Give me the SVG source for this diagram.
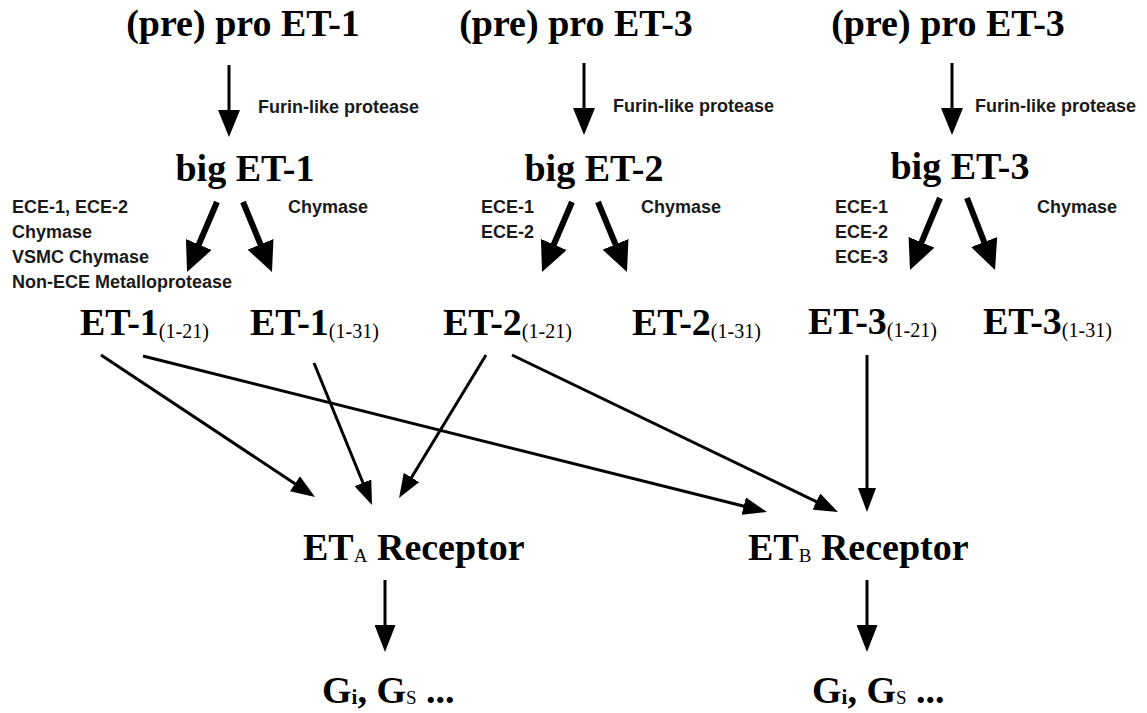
<svg xmlns="http://www.w3.org/2000/svg" width="1147" height="713" viewBox="0 0 1147 713">
<style>
.h{font-family:"Liberation Serif","Times New Roman",serif;font-weight:bold;font-size:38px;fill:#000}
.sub{font-family:"Liberation Serif","Times New Roman",serif;font-weight:normal;font-size:20px}
.rs{font-family:"Liberation Serif","Times New Roman",serif;font-weight:normal;font-size:19px}
.gs{font-family:"Liberation Serif","Times New Roman",serif;font-weight:bold;font-size:21px}
.lab{font-family:"Liberation Sans",Arial,sans-serif;font-weight:bold;font-size:18px;fill:#1a1a1a}
.a1{stroke:#000;stroke-width:3;fill:none;marker-end:url(#mA)}
.a2{stroke:#000;stroke-width:6;fill:none;marker-end:url(#mB)}
.a3{stroke:#000;stroke-width:3;fill:none;marker-end:url(#mC)}
.a4{stroke:#000;stroke-width:3;fill:none;marker-end:url(#mD)}
</style>
<defs>
<marker id="mA" markerUnits="userSpaceOnUse" markerWidth="27" markerHeight="22" refX="10.8" refY="11" orient="auto"><path d="M0,0 L27,11 L0,22 Z" fill="#000"/></marker>
<marker id="mB" markerUnits="userSpaceOnUse" markerWidth="30" markerHeight="28" refX="12" refY="14" orient="auto"><path d="M0,0 L30,14 L0,28 Z" fill="#000"/></marker>
<marker id="mC" markerUnits="userSpaceOnUse" markerWidth="24" markerHeight="18" refX="10.8" refY="9" orient="auto"><path d="M0,0 L24,9 L0,18 Z" fill="#000"/></marker>
<marker id="mD" markerUnits="userSpaceOnUse" markerWidth="27" markerHeight="21" refX="10.8" refY="10.5" orient="auto"><path d="M0,0 L27,10.5 L0,21 Z" fill="#000"/></marker>
</defs>
<rect width="1147" height="713" fill="#fff"/>

<g id="connectors">
<line class="a1" x1="229" y1="65" x2="229" y2="120.8"/>
<line class="a1" x1="584" y1="63" x2="584" y2="118.8"/>
<line class="a1" x1="952" y1="63" x2="952" y2="118.8"/>
<line class="a2" x1="217" y1="202" x2="194.1" y2="255.5"/>
<line class="a2" x1="243" y1="202" x2="265.1" y2="255.4"/>
<line class="a2" x1="572" y1="202" x2="549.1" y2="255.5"/>
<line class="a2" x1="598" y1="202" x2="620.1" y2="255.4"/>
<line class="a2" x1="940" y1="198" x2="916.9" y2="253.4"/>
<line class="a2" x1="967" y1="198" x2="988.5" y2="253.2"/>
<line class="a3" x1="101" y1="355" x2="304.0" y2="489.7"/>
<line class="a3" x1="143" y1="356" x2="754.2" y2="508.8"/>
<line class="a3" x1="314" y1="363" x2="367.0" y2="492.8"/>
<line class="a3" x1="486" y1="355" x2="405.9" y2="486.7"/>
<line class="a3" x1="512" y1="355" x2="826.1" y2="506.3"/>
<line class="a3" x1="867" y1="355" x2="867" y2="498.8"/>
<line class="a4" x1="385" y1="580" x2="385" y2="635.8"/>
<line class="a4" x1="867" y1="580" x2="867" y2="635.8"/>
</g>

<g id="prepro1"><text class="h" x="243" y="36" text-anchor="middle">(pre) pro ET-1</text></g>
<g id="prepro2"><text class="h" x="576" y="36" text-anchor="middle">(pre) pro ET-3</text></g>
<g id="prepro3"><text class="h" x="948" y="36" text-anchor="middle">(pre) pro ET-3</text></g>

<g id="furin-labels">
<text class="lab" x="258" y="113">Furin-like protease</text>
<text class="lab" x="613" y="112">Furin-like protease</text>
<text class="lab" x="975" y="112">Furin-like protease</text>
</g>

<g id="big1"><text class="h" x="245" y="181" text-anchor="middle">big ET-1</text></g>
<g id="big2"><text class="h" x="594" y="181" text-anchor="middle">big ET-2</text></g>
<g id="big3"><text class="h" x="960" y="179" text-anchor="middle">big ET-3</text></g>

<g id="enzyme-labels">
<text class="lab" x="12" y="213">ECE-1, ECE-2</text>
<text class="lab" x="12" y="238">Chymase</text>
<text class="lab" x="12" y="263">VSMC Chymase</text>
<text class="lab" x="12" y="288">Non-ECE Metalloprotease</text>
<text class="lab" x="288" y="213">Chymase</text>
<text class="lab" x="481" y="213">ECE-1</text>
<text class="lab" x="481" y="238">ECE-2</text>
<text class="lab" x="641" y="213">Chymase</text>
<text class="lab" x="835" y="213">ECE-1</text>
<text class="lab" x="835" y="238">ECE-2</text>
<text class="lab" x="835" y="263">ECE-3</text>
<text class="lab" x="1037" y="213">Chymase</text>
</g>

<g id="et1-21"><text class="h" x="80" y="335">ET-1<tspan class="sub" dy="3">(1-21)</tspan></text></g>
<g id="et1-31"><text class="h" x="250" y="335">ET-1<tspan class="sub" dy="3">(1-31)</tspan></text></g>
<g id="et2-21"><text class="h" x="443" y="335">ET-2<tspan class="sub" dy="3">(1-21)</tspan></text></g>
<g id="et2-31"><text class="h" x="632" y="335">ET-2<tspan class="sub" dy="3">(1-31)</tspan></text></g>
<g id="et3-21"><text class="h" x="808" y="334">ET-3<tspan class="sub" dy="3">(1-21)</tspan></text></g>
<g id="et3-31"><text class="h" x="983" y="334">ET-3<tspan class="sub" dy="3">(1-31)</tspan></text></g>

<g id="etA"><text class="h" x="303" y="560">ET<tspan class="rs" dy="2">A</tspan><tspan dy="-2"> Receptor</tspan></text></g>
<g id="etB"><text class="h" x="748" y="560">ET<tspan class="rs" font-weight="bold" dy="2">B</tspan><tspan dy="-2"> Receptor</tspan></text></g>

<g id="gA"><text class="h" x="322" y="703">G<tspan class="gs" dy="1">i</tspan><tspan dy="-1">, G</tspan><tspan class="rs" dy="1">S</tspan><tspan dy="-1"> ...</tspan></text></g>
<g id="gB"><text class="h" x="812" y="703">G<tspan class="gs" dy="1">i</tspan><tspan dy="-1">, G</tspan><tspan class="rs" dy="1">S</tspan><tspan dy="-1"> ...</tspan></text></g>
</svg>
